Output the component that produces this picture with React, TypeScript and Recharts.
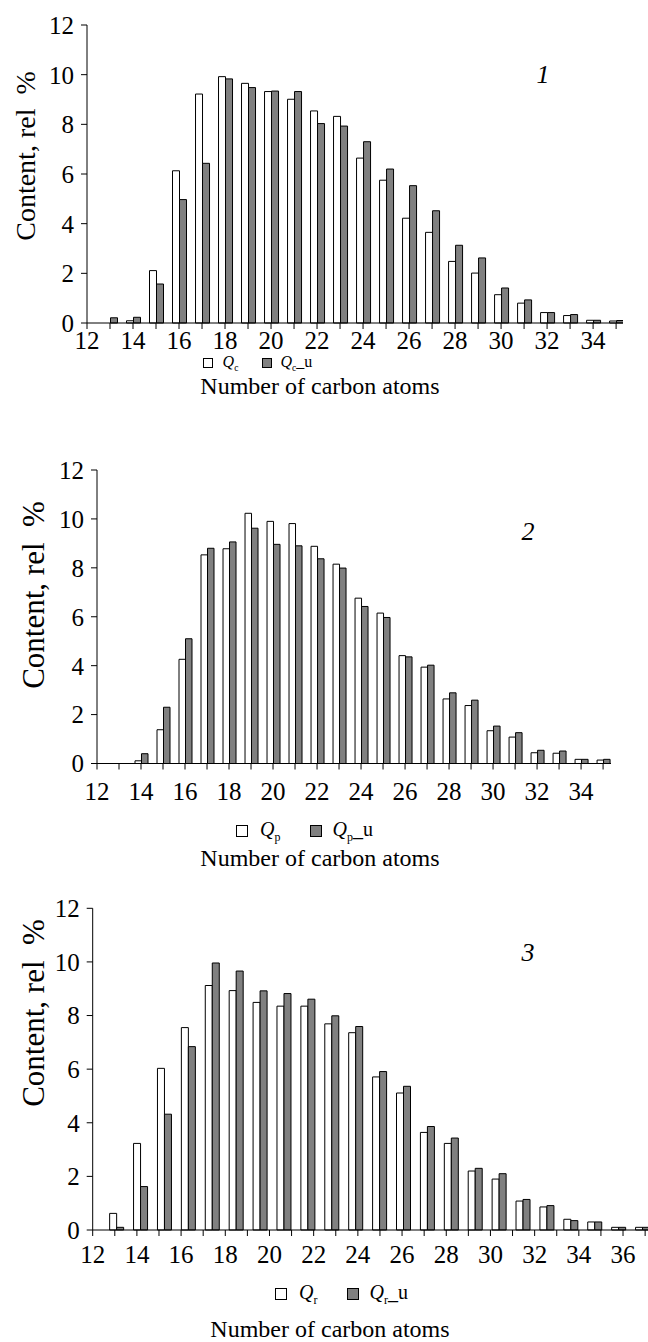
import React from 'react';
import { BarChart, Bar, XAxis, YAxis, Legend } from 'recharts';

const FONT = '"Liberation Serif", "Times New Roman", Times, serif';

// carbon numbers on the bar axis
const carbons = [12, 13, 14, 15, 16, 17, 18, 19, 20, 21, 22, 23, 24, 25, 26, 27, 28, 29, 30, 31, 32, 33, 34, 35];

// panel 1
const qc = [0, 0, 0.09, 2.11, 6.13, 9.22, 9.92, 9.65, 9.32, 9.01, 8.54, 8.32, 6.64, 5.75, 4.22, 3.65, 2.48, 2.01, 1.14, 0.8, 0.42, 0.3, 0.11, 0.08];
const qcU = [0, 0.21, 0.23, 1.57, 4.97, 6.43, 9.83, 9.48, 9.34, 9.32, 8.03, 7.93, 7.3, 6.2, 5.53, 4.52, 3.13, 2.62, 1.41, 0.93, 0.42, 0.34, 0.11, 0.1];

// panel 2
const qp = [0, 0, 0.11, 1.38, 4.26, 8.53, 8.78, 10.23, 9.9, 9.81, 8.88, 8.15, 6.76, 6.15, 4.41, 3.94, 2.64, 2.37, 1.34, 1.08, 0.44, 0.42, 0.17, 0.14];
const qpU = [0, 0, 0.4, 2.3, 5.1, 8.8, 9.06, 9.62, 8.96, 8.9, 8.37, 7.99, 6.42, 5.97, 4.36, 4.02, 2.89, 2.59, 1.53, 1.26, 0.54, 0.51, 0.17, 0.17];

// panel 3
const qr = [0, 0.62, 3.23, 6.03, 7.55, 9.12, 8.93, 8.49, 8.35, 8.35, 7.69, 7.36, 5.71, 5.11, 3.64, 3.23, 2.2, 1.9, 1.08, 0.86, 0.4, 0.3, 0.1, 0.1];
const qrU = [0, 0.1, 1.62, 4.32, 6.84, 9.96, 9.66, 8.92, 8.82, 8.61, 7.99, 7.59, 5.91, 5.36, 3.86, 3.43, 2.3, 2.1, 1.14, 0.91, 0.35, 0.3, 0.1, 0.1];

const yTicks = [0, 2, 4, 6, 8, 10, 12];
const xTicks = [12, 13, 14, 15, 16, 17, 18, 19, 20, 21, 22, 23, 24, 25, 26, 27, 28, 29, 30, 31, 32, 33, 34, 35];
const xTicksLong = [12, 13, 14, 15, 16, 17, 18, 19, 20, 21, 22, 23, 24, 25, 26, 27, 28, 29, 30, 31, 32, 33, 34, 35, 36, 37];

const yTitle = 'Content, rel\u00a0 %';
const xTitle = 'Number of carbon atoms';

const toRows = (white: number[], gray: number[]) =>
  carbons.map((c, i) => ({ c, white: white[i], gray: gray[i] }));

const evenOnly = (v: number) => (v % 2 === 0 ? String(v) : '');

const LegendRow = ({ sub, left, gap, size, box }: any) => (
  <div style={{ display: 'flex', alignItems: 'center', paddingLeft: left, fontFamily: FONT, fontSize: size, color: '#000', lineHeight: 1 }}>
    <span style={{ width: box, height: box, border: '1px solid #000', background: '#fff', display: 'inline-block' }} />
    <span style={{ marginLeft: size * 0.6 }}>
      <i>Q</i><sub style={{ fontSize: '0.6em' }}>{sub}</sub>
    </span>
    <span style={{ width: box, height: box, border: '1px solid #000', background: '#808080', display: 'inline-block', marginLeft: gap }} />
    <span style={{ marginLeft: size * 0.5 }}>
      <i>Q</i><sub style={{ fontSize: '0.6em' }}>{sub}</sub>_u
    </span>
  </div>
);

const Panel = ({ cfg, rows }: any) => {
  const twoAxes = !!cfg.labelDomain;
  const titleLabel = {
    content: () => (
      <text x={cfg.titleX} y={cfg.titleY} textAnchor="middle" dominantBaseline="central" fontFamily={FONT} fontSize={24} fill="#000">
        {xTitle}
      </text>
    ),
  };
  return (
    <div style={{ position: 'absolute', left: 0, top: cfg.top, width: 648, height: cfg.height }}>
      <BarChart
        width={648}
        height={cfg.height}
        data={rows}
        barSize={cfg.barSize}
        barGap={0}
        margin={{ top: cfg.marginTop, right: cfg.marginRight, left: 0, bottom: 0 }}
      >
        <XAxis
          xAxisId="bars"
          type="number"
          dataKey="c"
          domain={cfg.barDomain}
          ticks={xTicks}
          interval={0}
          hide={twoAxes}
          height={twoAxes ? 0 : cfg.xHeight}
          tickFormatter={evenOnly}
          tickSize={6}
          tickMargin={cfg.tickMargin}
          stroke="#000"
          tick={{ fill: '#000', fontSize: 25, fontFamily: FONT }}
          allowDataOverflow
          label={twoAxes ? undefined : titleLabel}
        />
        {twoAxes && (
          <XAxis
            xAxisId="labels"
            type="number"
            dataKey="c"
            domain={cfg.labelDomain}
            ticks={xTicksLong}
            interval={0}
            height={cfg.xHeight}
            tickFormatter={evenOnly}
            tickSize={6}
            tickMargin={cfg.tickMargin}
            stroke="#000"
            tick={{ fill: '#000', fontSize: 25, fontFamily: FONT }}
            allowDataOverflow
            label={titleLabel}
          />
        )}
        <YAxis
          type="number"
          domain={[0, 12]}
          ticks={yTicks}
          interval={0}
          width={cfg.yWidth}
          tickSize={6}
          tickMargin={7}
          stroke="#000"
          tick={{ fill: '#000', fontSize: 25, fontFamily: FONT }}
          label={{
            content: () => (
              <text
                x={cfg.yTitleX}
                y={cfg.yTitleY}
                transform={`rotate(-90 ${cfg.yTitleX} ${cfg.yTitleY})`}
                textAnchor="middle"
                dominantBaseline="central"
                fontFamily={FONT}
                fontSize={cfg.yTitleSize}
                fill="#000"
              >
                {yTitle}
              </text>
            ),
          }}
        />
        <Legend
          layout="horizontal"
          verticalAlign="middle"
          align="center"
          wrapperStyle={{ top: cfg.legendY - cfg.legendSize / 2, left: 0, width: 648 }}
          content={() => <LegendRow sub={cfg.sub} left={cfg.legendX} gap={cfg.legendGap} size={cfg.legendSize} box={cfg.legendBox} />}
        />
        <Bar xAxisId="bars" dataKey="white" name="white" fill="#ffffff" stroke="#000" strokeWidth={1} isAnimationActive={false} />
        <Bar xAxisId="bars" dataKey="gray" name="gray" fill="#808080" stroke="#000" strokeWidth={1} isAnimationActive={false} />
      </BarChart>
      <div
        style={{
          position: 'absolute',
          left: cfg.numX,
          top: cfg.numY,
          transform: 'translate(-50%, -50%)',
          fontFamily: FONT,
          fontStyle: 'italic',
          fontSize: 26,
          lineHeight: 1,
        }}
      >
        {cfg.num}
      </div>
    </div>
  );
};

const panel1 = {
  top: 0, height: 400, marginTop: 25, marginRight: 25, yWidth: 87, xHeight: 77,
  barDomain: [12, 35.3], labelDomain: null, barSize: 7, tickMargin: 2,
  titleX: 320, titleY: 386, yTitleX: 25, yTitleY: 156, yTitleSize: 28,
  legendY: 362, legendX: 203, legendGap: 24, legendSize: 16, legendBox: 8, sub: 'c',
  num: '1', numX: 543, numY: 75,
};

const panel2 = {
  top: 440, height: 440, marginTop: 30, marginRight: 37, yWidth: 97, xHeight: 116.5,
  barDomain: [12, 35.36], labelDomain: null, barSize: 6.5, tickMargin: 13,
  titleX: 320, titleY: 418, yTitleX: 33, yTitleY: 155, yTitleSize: 31,
  legendY: 389, legendX: 236, legendGap: 30, legendSize: 20, legendBox: 10, sub: 'p',
  num: '2', numX: 528, numY: 92,
};

const panel3 = {
  top: 880, height: 462, marginTop: 28.3, marginRight: 0, yWidth: 92.7, xHeight: 112,
  barDomain: [12, 35.23], labelDomain: [12, 37.13], barSize: 7, tickMargin: 9,
  titleX: 330, titleY: 449, yTitleX: 33, yTitleY: 133, yTitleSize: 31,
  legendY: 412, legendX: 275, legendGap: 30, legendSize: 20, legendBox: 10, sub: 'r',
  num: '3', numX: 528, numY: 73,
};

const App: React.FC = () => (
  <div style={{ position: 'absolute', left: 0, top: 0, width: 648, height: 1342, background: '#fff', overflow: 'hidden' }}>
    <Panel cfg={panel1} rows={toRows(qc, qcU)} />
    <Panel cfg={panel2} rows={toRows(qp, qpU)} />
    <Panel cfg={panel3} rows={toRows(qr, qrU)} />
  </div>
);

export default App;
